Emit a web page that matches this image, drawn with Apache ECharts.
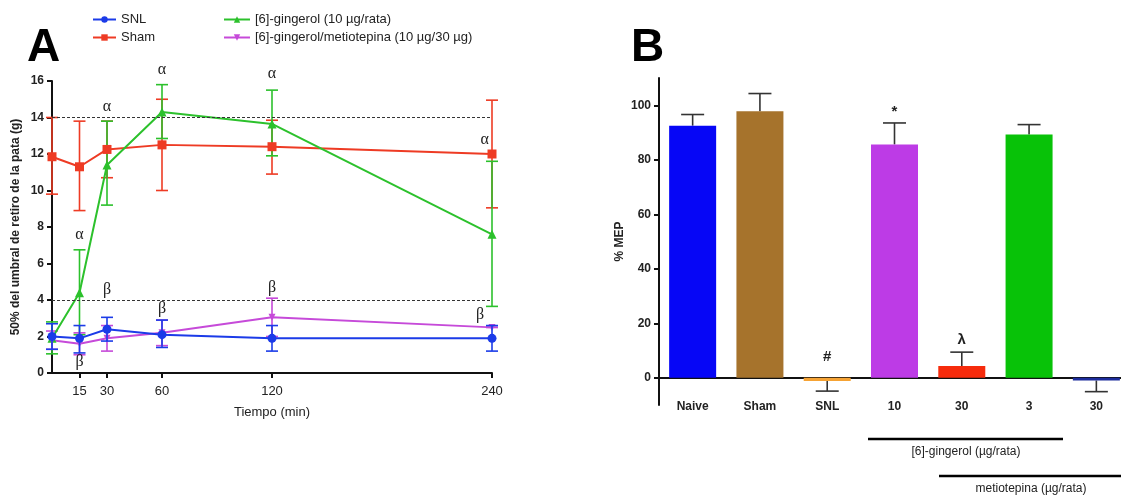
<!DOCTYPE html>
<html><head><meta charset="utf-8">
<script src="https://cdn.jsdelivr.net/npm/echarts@6/dist/echarts.min.js"></script>
<style>html,body{margin:0;padding:0;background:#fff}#c{width:1121px;height:497px}</style>
</head><body><div id="c"></div>
<script>
// ---- Panel A data ----
const times = [0, 15, 30, 60, 120, 240];
const timeTicks = [15, 30, 60, 120, 240];
const yTicksA = [0, 2, 4, 6, 8, 10, 12, 14, 16];
const snlMean = [2.0, 1.9, 2.4, 2.1, 1.9, 1.9];
const snlLow  = [1.3, 1.1, 1.75, 1.4, 1.2, 1.2];
const snlHigh = [2.7, 2.6, 3.05, 2.9, 2.6, 2.6];
const shamMean = [11.85, 11.3, 12.25, 12.5, 12.4, 12.0];
const shamLow  = [9.8, 8.9, 10.7, 10.0, 10.9, 9.05];
const shamHigh = [14.0, 13.8, 13.8, 15.0, 13.85, 14.95];
const gingMean = [1.9, 4.4, 11.4, 14.3, 13.65, 7.6];
const gingLow  = [1.05, 2.1, 9.2, 12.85, 11.9, 3.65];
const gingHigh = [2.8, 6.75, 13.8, 15.8, 15.5, 11.6];
const metMean = [1.8, 1.6, 1.9, 2.2, 3.05, 2.5];
const metLow  = [1.3, 1.0, 1.2, 1.5, 2.0, 2.5];
const metHigh = [2.3, 2.2, 2.6, 2.9, 4.1, 2.5];
const refLines = [14, 4];
const annotA = [[30,14.56,'α'],[60,16.6,'α'],[120,16.4,'α'],[236,12.8,'α'],[15,7.55,'α'],
                [30,4.57,'β'],[60,3.53,'β'],[120,4.68,'β'],[233.5,3.2,'β'],[15,0.6,'β']];
const seriesNames = ['SNL','Sham','[6]-gingerol (10 µg/rata)','[6]-gingerol/metiotepina (10 µg/30 µg)'];

// ---- Panel B data ----
const bCats = ['Naive','Sham','SNL','10','30','3','30'];
const bMean = [92.5, 97.8, -1.2, 85.6, 4.3, 89.3, -1.0];
const bErrEnd = [96.6, 104.3, -4.9, 93.5, 9.4, 92.9, -5.1];
const bTicks = [0, 20, 40, 60, 80, 100];
const annotB = [[2, 7.6, '#'], [3, 97.6, '*'], [4, 14.0, 'λ']];

const cBlue='#1b3be8', cRed='#ee3b24', cGreen='#2cc12c', cMag='#c64ad9';
const bColors = ['#0606f6','#a6732c','#f6a334','#bd3be6','#f62b0c','#08c208','#1c2c9c'];

function errA(params, api){
  const x=api.value(0), lo=api.value(1), hi=api.value(2);
  const p1=api.coord([x,lo]), p2=api.coord([x,hi]); const w=6;
  const st={stroke:api.visual('color'), lineWidth:1.6};
  return {type:'group', children:[
    {type:'line', shape:{x1:p1[0],y1:p1[1],x2:p2[0],y2:p2[1]}, style:st},
    {type:'line', shape:{x1:p1[0]-w,y1:p1[1],x2:p1[0]+w,y2:p1[1]}, style:st},
    {type:'line', shape:{x1:p2[0]-w,y1:p2[1],x2:p2[0]+w,y2:p2[1]}, style:st}]};
}
function errB(params, api){
  const x=api.value(0), v=api.value(1), e=api.value(2);
  const p1=api.coord([x,v]), p2=api.coord([x,e]); const w=11.5;
  const st={stroke:'#333', lineWidth:1.6};
  return {type:'group', children:[
    {type:'line', shape:{x1:p1[0],y1:p1[1],x2:p2[0],y2:p2[1]}, style:st},
    {type:'line', shape:{x1:p2[0]-w,y1:p2[1],x2:p2[0]+w,y2:p2[1]}, style:st}]};
}
const annLookup = {annA: annotA, annB: annotB};
function textItem(font){
  return function(params, api){
    const p=api.coord([api.value(0), api.value(1)]);
    return {type:'text', x:p[0], y:p[1], style:{text:annLookup[params.seriesName][params.dataIndex][2], font:font, fill:'#222', align:'center', verticalAlign:'middle'}};
  };
}

const mk = (i)=>times.map((t,k)=>[t, [snlLow,shamLow,gingLow,metLow][i][k], [snlHigh,shamHigh,gingHigh,metHigh][i][k]]);
const lineData = (arr)=>times.map((t,k)=>[t, arr[k]]);

const chart = echarts.init(document.getElementById('c'));
const axisStyle = {lineStyle:{color:'#111', width:2}};
chart.setOption({
  animation:false,
  textStyle:{fontFamily:'Liberation Sans, Arial, sans-serif'},
  title:[
    {text:'A', left:22, top:20, textStyle:{fontSize:46, fontWeight:'bold', color:'#000', fontFamily:'Liberation Sans'}},
    {text:'B', left:626, top:20, textStyle:{fontSize:46, fontWeight:'bold', color:'#000', fontFamily:'Liberation Sans'}}
  ],
  legend:[
    {data:[seriesNames[0], seriesNames[1]], orient:'vertical', left:92, top:13, padding:0, itemWidth:23, itemHeight:8, itemGap:5,
     textStyle:{fontSize:13, color:'#222'}},
    {data:[seriesNames[2], seriesNames[3]], orient:'vertical', left:223, top:13, padding:0, itemWidth:26, itemHeight:8, itemGap:5,
     textStyle:{fontSize:13, color:'#222'}}
  ],
  grid:[
    {left:52, top:81, width:440, height:292, outerBoundsMode:'none'},
    {left:659, top:78, width:471, height:327, outerBoundsMode:'none'}
  ],
  xAxis:[
    {type:'value', gridIndex:0, min:0, max:240, splitLine:{show:false},
     axisLine:{...axisStyle, onZero:false},
     axisTick:{customValues:timeTicks, length:5, lineStyle:{color:'#111', width:2}},
     axisLabel:{customValues:timeTicks, fontSize:13, color:'#222', margin:12},
     name:'Tiempo (min)', nameLocation:'middle', nameGap:33, nameTextStyle:{fontSize:13, color:'#222'}},
    {type:'category', gridIndex:1, data:bCats, boundaryGap:true,
     axisLine:{show:true, onZero:true, lineStyle:{color:'#111', width:2}},
     axisTick:{show:false},
     axisLabel:{fontSize:12, fontWeight:'bold', color:'#222', margin:-4}}
  ],
  yAxis:[
    {type:'value', gridIndex:0, min:0, max:16, interval:2, splitLine:{show:false},
     axisLine:{show:true, ...axisStyle},
     axisTick:{show:true, length:5, lineStyle:{color:'#111', width:2}},
     axisLabel:{fontSize:12, fontWeight:'bold', color:'#222', margin:8},
     name:'50% del umbral de retiro de la pata (g)', nameLocation:'middle', nameGap:30,
     nameTextStyle:{fontSize:12, fontWeight:'bold', color:'#222'}},
    {type:'value', gridIndex:1, min:-10, max:110, splitLine:{show:false},
     axisLine:{show:true, onZero:false, ...axisStyle},
     axisTick:{show:true, customValues:bTicks, length:5, lineStyle:{color:'#111', width:2}},
     axisLabel:{customValues:bTicks, fontSize:12, fontWeight:'bold', color:'#222', margin:8},
     name:'% MEP', nameLocation:'middle', nameGap:33,
     nameTextStyle:{fontSize:12, fontWeight:'bold', color:'#222'}}
  ],
  series:[
    {type:'custom', name:'errSham', xAxisIndex:0, yAxisIndex:0, renderItem:errA, data:mk(1), itemStyle:{color:cRed}, clip:false, z:2},
    {type:'line', name:seriesNames[1], xAxisIndex:0, yAxisIndex:0, data:lineData(shamMean), color:cRed,
     symbol:'rect', symbolSize:9, lineStyle:{width:2}, z:3,
     markLine:{silent:true, symbol:'none', label:{show:false}, lineStyle:{color:'#333', type:[3,2], width:1},
       data:refLines.map(v=>({yAxis:v}))}},
    {type:'custom', name:'errGing', xAxisIndex:0, yAxisIndex:0, renderItem:errA, data:mk(2), itemStyle:{color:cGreen}, clip:false, z:2},
    {type:'line', name:seriesNames[2], xAxisIndex:0, yAxisIndex:0, data:lineData(gingMean), color:cGreen,
     symbol:'triangle', symbolSize:9, lineStyle:{width:2}, z:3},
    {type:'custom', name:'errMet', xAxisIndex:0, yAxisIndex:0, renderItem:errA, data:mk(3), itemStyle:{color:cMag}, clip:false, z:2},
    {type:'line', name:seriesNames[3], xAxisIndex:0, yAxisIndex:0, data:lineData(metMean), color:cMag,
     symbol:'triangle', symbolRotate:180, symbolSize:7, lineStyle:{width:2}, z:3},
    {type:'custom', name:'errSnl', xAxisIndex:0, yAxisIndex:0, renderItem:errA, data:mk(0), itemStyle:{color:cBlue}, clip:false, z:4},
    {type:'line', name:seriesNames[0], xAxisIndex:0, yAxisIndex:0, data:lineData(snlMean), color:cBlue,
     symbol:'circle', symbolSize:9, lineStyle:{width:2}, z:5},
    {type:'custom', name:'annA', xAxisIndex:0, yAxisIndex:0, renderItem:textItem('16px Liberation Serif'), data:annotA, clip:false, z:6},
    // Panel B
    {type:'bar', name:'bars', xAxisIndex:1, yAxisIndex:1, barWidth:47,
     data:bMean.map((v,i)=>({value:v, itemStyle:{color:bColors[i]}})), z:2},
    {type:'custom', name:'errB', xAxisIndex:1, yAxisIndex:1, renderItem:errB,
     data:bMean.map((v,i)=>[i, v, bErrEnd[i]]), clip:false, z:1},
    {type:'custom', name:'annB', xAxisIndex:1, yAxisIndex:1, renderItem:textItem('bold 15px Liberation Sans'), data:annotB, clip:false, z:6}
  ],
  graphic:[
    {type:'line', shape:{x1:868,y1:439,x2:1063,y2:439}, style:{stroke:'#000', lineWidth:2.5}},
    {type:'text', x:966, y:452, style:{text:'[6]-gingerol (µg/rata)', font:'12px Liberation Sans', fill:'#222', align:'center', verticalAlign:'middle'}},
    {type:'line', shape:{x1:939,y1:476,x2:1121,y2:476}, style:{stroke:'#000', lineWidth:2.5}},
    {type:'text', x:1031, y:489, style:{text:'metiotepina (µg/rata)', font:'12px Liberation Sans', fill:'#222', align:'center', verticalAlign:'middle'}}
  ]
});
</script></body></html>
